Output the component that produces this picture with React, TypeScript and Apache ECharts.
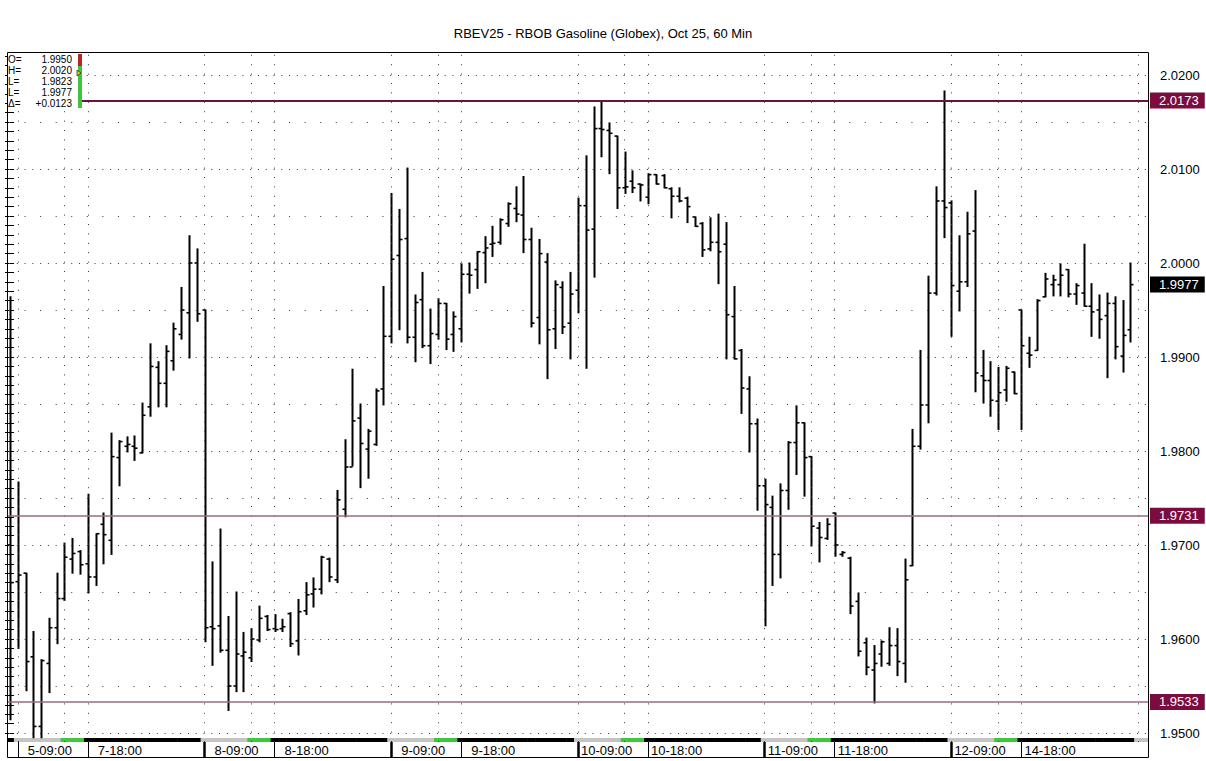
import React, { useEffect, useRef } from 'react';
import * as echarts from 'echarts';

const TITLE = 'RBEV25 - RBOB Gasoline (Globex), Oct 25, 60 Min';

// trading sessions (day of month, first hour, last hour) -> one bar per hour
const sessions = [
  { day: 5, from: 8, to: 17 },
  { day: 7, from: 18, to: 23 },
  { day: 8, from: 0, to: 23 },
  { day: 9, from: 0, to: 23 },
  { day: 10, from: 0, to: 23 },
  { day: 11, from: 0, to: 23 },
  { day: 12, from: 0, to: 17 },
  { day: 14, from: 18, to: 23 },
  { day: 15, from: 0, to: 10 },
];

const opens = [
  1.9700, 1.9661, 1.9670, 1.9581, 1.9507, 1.9574, 1.9612, 1.9643, 1.9685, 1.9693,
  1.9680, 1.9666, 1.9722, 1.9705, 1.9793, 1.9805, 1.9805, 1.9798, 1.9847, 1.9889,
  1.9872, 1.9896, 1.9924, 1.9947, 2.0000, 1.9950, 1.9613, 1.9614, 1.9588, 1.9550,
  1.9582, 1.9580, 1.9599, 1.9624, 1.9611, 1.9611, 1.9627, 1.9598, 1.9630, 1.9648,
  1.9653, 1.9685, 1.9663, 1.9738, 1.9783, 1.9835, 1.9802, 1.9807, 1.9866, 1.9922,
  2.0008, 2.0026, 1.9921, 1.9961, 1.9912, 1.9924, 1.9957, 1.9924, 1.9930, 1.9988,
  1.9993, 2.0011, 2.0020, 2.0022, 2.0042, 2.0058, 2.0051, 2.0025, 1.9942, 2.0001,
  1.9930, 1.9974, 1.9936, 1.9971, 2.0061, 2.0036, 2.0143, 2.0141, 2.0135, 2.0080,
  2.0087, 2.0084, 2.0070, 2.0094, 2.0093, 2.0079, 2.0071, 2.0069, 2.0049, 2.0042,
  2.0015, 2.0022, 2.0020, 1.9943, 1.9907, 1.9866, 1.9829, 1.9763, 1.9740, 1.9690,
  1.9758, 1.9809, 1.9830, 1.9794, 1.9718, 1.9707, 1.9734, 1.9690, 1.9686, 1.9640,
  1.9596, 1.9567, 1.9584, 1.9574, 1.9593, 1.9574, 1.9678, 1.9805, 1.9849, 1.9968,
  2.0066, 2.0064, 1.9970, 1.9980, 2.0034, 1.9880, 1.9875, 1.9853, 1.9865, 1.9884,
  1.9950, 1.9904, 1.9907, 1.9964, 1.9977, 1.9977, 1.9993, 1.9967, 1.9968, 1.9954,
  1.9950, 1.9944, 1.9957, 1.9901, 1.9929,
];
const highs = [
  1.9964, 1.9767, 1.9670, 1.9608, 1.9578, 1.9622, 1.9670, 1.9702, 1.9707, 1.9694,
  1.9754, 1.9712, 1.9734, 1.9819, 1.9811, 1.9815, 1.9816, 1.9851, 1.9914, 1.9895,
  1.9912, 1.9936, 1.9974, 2.0029, 2.0015, 1.9950, 1.9682, 1.9717, 1.9624, 1.9650,
  1.9607, 1.9611, 1.9635, 1.9625, 1.9626, 1.9621, 1.9628, 1.9642, 1.9660, 1.9665,
  1.9688, 1.9686, 1.9758, 1.9812, 1.9887, 1.9850, 1.9823, 1.9866, 1.9975, 2.0074,
  2.0057, 2.0101, 1.9966, 1.9990, 1.9951, 1.9962, 1.9957, 1.9948, 1.9999, 2.0000,
  2.0012, 2.0028, 2.0039, 2.0047, 2.0064, 2.0081, 2.0092, 2.0037, 2.0025, 2.0010,
  1.9981, 1.9980, 1.9990, 2.0069, 2.0114, 2.0166, 2.0172, 2.0149, 2.0135, 2.0118,
  2.0098, 2.0084, 2.0095, 2.0094, 2.0094, 2.0080, 2.0080, 2.0070, 2.0049, 2.0043,
  2.0048, 2.0052, 2.0043, 1.9975, 1.9908, 1.9879, 1.9834, 1.9770, 1.9752, 1.9765,
  1.9810, 1.9848, 1.9830, 1.9794, 1.9724, 1.9728, 1.9734, 1.9693, 1.9687, 1.9649,
  1.9601, 1.9593, 1.9598, 1.9612, 1.9611, 1.9685, 1.9823, 1.9907, 1.9986, 2.0081,
  2.0183, 2.0066, 2.0029, 2.0054, 2.0077, 1.9907, 1.9895, 1.9889, 1.9890, 1.9884,
  1.9950, 1.9921, 1.9961, 1.9989, 1.9987, 1.9999, 1.9993, 1.9978, 2.0020, 1.9978,
  1.9966, 1.9968, 1.9964, 1.9960, 2.0000,
];
const lows = [
  1.9514, 1.9590, 1.9545, 1.9495, 1.9495, 1.9543, 1.9595, 1.9641, 1.9670, 1.9669,
  1.9649, 1.9657, 1.9680, 1.9690, 1.9763, 1.9799, 1.9790, 1.9798, 1.9837, 1.9847,
  1.9847, 1.9886, 1.9919, 1.9899, 1.9938, 1.9597, 1.9572, 1.9586, 1.9524, 1.9544,
  1.9544, 1.9576, 1.9597, 1.9609, 1.9608, 1.9608, 1.9592, 1.9583, 1.9626, 1.9634,
  1.9648, 1.9661, 1.9660, 1.9730, 1.9784, 1.9761, 1.9771, 1.9806, 1.9849, 1.9915,
  1.9929, 1.9915, 1.9895, 1.9910, 1.9893, 1.9919, 1.9908, 1.9906, 1.9916, 1.9968,
  1.9973, 1.9979, 2.0007, 2.0020, 2.0039, 2.0044, 2.0011, 1.9932, 1.9914, 1.9877,
  1.9909, 1.9925, 1.9898, 1.9947, 1.9888, 1.9985, 2.0113, 2.0095, 2.0058, 2.0074,
  2.0075, 2.0066, 2.0063, 2.0084, 2.0080, 2.0048, 2.0065, 2.0043, 2.0039, 2.0007,
  2.0013, 1.9978, 1.9898, 1.9898, 1.9840, 1.9799, 1.9737, 1.9614, 1.9657, 1.9665,
  1.9738, 1.9775, 1.9752, 1.9699, 1.9682, 1.9706, 1.9688, 1.9688, 1.9627, 1.9582,
  1.9562, 1.9532, 1.9571, 1.9572, 1.9561, 1.9554, 1.9678, 1.9802, 1.9830, 1.9966,
  2.0027, 1.9922, 1.9949, 1.9975, 1.9863, 1.9851, 1.9837, 1.9823, 1.9853, 1.9861,
  1.9823, 1.9889, 1.9907, 1.9964, 1.9965, 1.9965, 1.9964, 1.9956, 1.9954, 1.9922,
  1.9920, 1.9878, 1.9898, 1.9884, 1.9916,
];
const closes = [
  1.9660, 1.9668, 1.9576, 1.9507, 1.9577, 1.9612, 1.9643, 1.9687, 1.9691, 1.9679,
  1.9666, 1.9712, 1.9711, 1.9794, 1.9810, 1.9807, 1.9803, 1.9838, 1.9890, 1.9872,
  1.9906, 1.9930, 1.9950, 2.0000, 1.9946, 1.9612, 1.9611, 1.9588, 1.9550, 1.9584,
  1.9586, 1.9600, 1.9622, 1.9610, 1.9610, 1.9613, 1.9595, 1.9629, 1.9647, 1.9653,
  1.9687, 1.9666, 1.9748, 1.9783, 1.9832, 1.9808, 1.9821, 1.9864, 1.9922, 2.0004,
  2.0025, 1.9921, 1.9958, 1.9912, 1.9925, 1.9957, 1.9919, 1.9943, 1.9988, 1.9987,
  2.0012, 2.0016, 2.0021, 2.0046, 2.0063, 2.0052, 2.0025, 1.9936, 2.0010, 1.9929,
  1.9977, 1.9932, 1.9967, 2.0061, 2.0035, 2.0143, 2.0142, 2.0138, 2.0080, 2.0081,
  2.0080, 2.0083, 2.0094, 2.0084, 2.0080, 2.0071, 2.0066, 2.0060, 2.0039, 2.0014,
  2.0022, 2.0012, 1.9945, 1.9898, 1.9867, 1.9829, 1.9763, 1.9743, 1.9690, 1.9758,
  1.9809, 1.9830, 1.9793, 1.9720, 1.9708, 1.9722, 1.9700, 1.9692, 1.9635, 1.9587,
  1.9570, 1.9574, 1.9597, 1.9593, 1.9576, 1.9663, 1.9805, 1.9849, 1.9968, 2.0066,
  2.0059, 1.9976, 1.9980, 2.0031, 1.9883, 1.9875, 1.9854, 1.9862, 1.9888, 1.9861,
  1.9912, 1.9902, 1.9960, 1.9983, 1.9982, 1.9987, 1.9967, 1.9976, 1.9954, 1.9948,
  1.9940, 1.9957, 1.9911, 1.9923, 1.9977,
];

const priceTicks = [1.95, 1.96, 1.97, 1.98, 1.99, 2.0, 2.01, 2.02];
const halfTicks = [1.955, 1.965, 1.975, 1.985, 1.995, 2.005, 2.015];
const levelLines = [2.0173, 1.9731, 1.9533];
const infoLabels = ['O=', 'H=', 'L=', 'L=', 'Δ='];
const infoValues = ['1.9950', '2.0020', '1.9823', '1.9977', '+0.0123'];

const FONT = "'Liberation Sans', Arial, Helvetica, sans-serif";

// layout (pixels)
const GRID_L = 7, GRID_R = 1148, GRID_T = 52, GRID_B = 742;
const BAR0_X = 10, PITCH = 7.78;
const PX_PER_UNIT = 9400, Y_REF_PX = 75, Y_REF_V = 2.02;

export default function App() {
  const ref = useRef<HTMLDivElement>(null);

  useEffect(() => {
    if (!ref.current) return;
    const chart = echarts.init(ref.current, null, { renderer: 'svg' });

    const slots: { day: number; hour: number }[] = [];
    sessions.forEach((s) => {
      for (let h = s.from; h <= s.to; h++) slots.push({ day: s.day, hour: h });
    });
    const nBars = closes.length;

    const xMin = (GRID_L - BAR0_X) / PITCH;
    const xMax = (GRID_R - BAR0_X) / PITCH;
    const yMax = Y_REF_V + (Y_REF_PX - GRID_T) / PX_PER_UNIT;
    const yMin = Y_REF_V - (GRID_B - Y_REF_PX) / PX_PER_UNIT;

    const labelIdx: number[] = [];
    const thinIdx: number[] = [];
    const thickIdx: number[] = [];
    const vertIdx: number[] = [];
    slots.forEach((s, i) => {
      if (s.hour === 9 || s.hour === 15 || s.hour === 18) vertIdx.push(i);
      if (i < nBars && (s.hour === 9 || s.hour === 18)) {
        labelIdx.push(i);
        if (s.hour === 9 && i > 1) thickIdx.push(i);
        else thinIdx.push(i);
      }
    });

    const minorTicks: number[] = [];
    for (let k = 1949; k <= 2022; k++) minorTicks.push(k / 1000);

    const ohlcData = closes.map((c, i) => [i, opens[i], highs[i], lows[i], c]);
    const stripData = slots.map((s, i) => [i, s.hour >= 9 && s.hour <= 14 ? 1 : s.hour >= 15 && s.hour <= 17 ? 2 : 0]);
    const stripColors = ['#000000', '#c4c4c4', '#3cc83c'];

    const dotColor = '#3a3a3a';
    const gridMarks = [
      ...priceTicks.map((v) => ({ yAxis: v, lineStyle: { type: [1, 6.78], dashOffset: -2.5, color: dotColor, width: 1 } })),
      ...halfTicks.map((v) => ({ yAxis: v, lineStyle: { type: [1, 14.56], dashOffset: -2.5, color: dotColor, width: 1 } })),
      ...vertIdx.map((i) => ({ xAxis: i, lineStyle: { type: [1, 8.4], color: dotColor, width: 1 } })),
    ];

    const tag = (bg: string) => ({
      show: true,
      position: 'end',
      distance: 2,
      backgroundColor: bg,
      color: '#ffffff',
      padding: [2, 6, 1, 9],
      fontSize: 13,
      fontFamily: FONT,
      formatter: (p: any) => Number(p.value).toFixed(4),
    });

    const priceMarks = [
      { yAxis: levelLines[0], lineStyle: { color: '#6a1240', width: 2, type: 'solid' }, label: tag('#7a0c3e') },
      { yAxis: levelLines[1], lineStyle: { color: '#9a6a86', width: 1.5, type: 'solid' }, label: tag('#7a0c3e') },
      { yAxis: levelLines[2], lineStyle: { color: '#9a6a86', width: 1.5, type: 'solid' }, label: tag('#7a0c3e') },
      { yAxis: closes[nBars - 1], lineStyle: { color: 'rgba(0,0,0,0)', width: 1, type: 'solid' }, label: tag('#000000') },
    ];

    const labelText = (v: number) => {
      const s = slots[Math.round(v)];
      if (!s) return '';
      const t = `${s.day}-${String(s.hour).padStart(2, '0')}:00`;
      return s.day < 10 ? `{p|${t}}` : `{q|${t}}`;
    };

    const option: any = {
      animation: false,
      backgroundColor: '#ffffff',
      title: {
        text: TITLE,
        left: 'center',
        top: 22,
        textStyle: { fontSize: 13, fontWeight: 'normal', color: '#000', fontFamily: FONT },
      },
      grid: { left: GRID_L, top: GRID_T, width: GRID_R - GRID_L, height: GRID_B - GRID_T, containLabel: false },
      xAxis: [
        {
          type: 'value',
          min: xMin,
          max: xMax,
          position: 'bottom',
          axisLine: { show: false },
          splitLine: { show: false },
          axisTick: { show: true, customValues: thinIdx, length: 15, lineStyle: { color: '#000', width: 1 } },
          axisLabel: {
            show: true,
            customValues: labelIdx,
            formatter: labelText,
            align: 'left',
            margin: 2,
            rich: {
              p: { padding: [0, 0, 0, 10], fontSize: 13, fontFamily: FONT, color: '#000' },
              q: { padding: [0, 0, 0, 3], fontSize: 13, fontFamily: FONT, color: '#000' },
            },
          },
        },
        {
          type: 'value',
          min: xMin,
          max: xMax,
          position: 'bottom',
          axisLine: { show: false },
          splitLine: { show: false },
          axisLabel: { show: false },
          axisTick: { show: true, customValues: thickIdx, length: 15, lineStyle: { color: '#000', width: 2.5 } },
        },
      ],
      yAxis: [
        {
          type: 'value',
          position: 'right',
          min: yMin,
          max: yMax,
          axisLine: { show: false },
          splitLine: { show: false },
          axisTick: { show: true, inside: true, length: 5, customValues: minorTicks, lineStyle: { color: '#000', width: 1 } },
          axisLabel: {
            show: true,
            customValues: priceTicks,
            formatter: (v: number) => v.toFixed(4),
            margin: 12,
            fontSize: 13,
            fontFamily: FONT,
            color: '#000',
          },
        },
        {
          type: 'value',
          position: 'left',
          min: yMin,
          max: yMax,
          axisLine: { show: false },
          splitLine: { show: false },
          axisLabel: { show: false },
          axisTick: { show: true, inside: true, length: 4, customValues: minorTicks, lineStyle: { color: '#000', width: 1 } },
        },
      ],
      series: [
        {
          type: 'line',
          name: 'grid',
          data: [],
          z: 1,
          silent: true,
          markLine: { silent: true, precision: 4, symbol: ['none', 'none'], label: { show: false }, data: gridMarks },
        },
        {
          type: 'custom',
          name: 'sessions',
          z: 2,
          silent: true,
          data: stripData,
          encode: { x: 0 },
          clip: true,
          renderItem: (params: any, api: any) => {
            const i = api.value(0);
            const cls = api.value(1);
            const p = api.coord([i, yMin]);
            const w = api.size([1, 0])[0];
            return {
              type: 'rect',
              shape: { x: p[0] - w / 2, y: p[1] - 4, width: w + 0.5, height: 4 },
              style: { fill: stripColors[cls] },
            };
          },
        },
        {
          type: 'line',
          name: 'levels',
          data: [],
          z: 2,
          silent: true,
          markLine: { silent: true, precision: 4, symbol: ['none', 'none'], data: priceMarks },
        },
        {
          type: 'custom',
          name: 'RBEV25',
          z: 3,
          data: ohlcData,
          encode: { x: 0, y: [1, 2, 3, 4] },
          clip: true,
          renderItem: (params: any, api: any) => {
            const i = api.value(0);
            const pO = api.coord([i, api.value(1)]);
            const pH = api.coord([i, api.value(2)]);
            const pL = api.coord([i, api.value(3)]);
            const pC = api.coord([i, api.value(4)]);
            const x = Math.round(pH[0]) + 0.5;
            const st = { stroke: '#000', lineWidth: 2 };
            return {
              type: 'group',
              children: [
                { type: 'line', shape: { x1: x, y1: pH[1] - 0.5, x2: x, y2: pL[1] + 0.5 }, style: st },
                { type: 'line', shape: { x1: x - 3, y1: pO[1], x2: x, y2: pO[1] }, style: { stroke: '#000', lineWidth: 1.6 } },
                { type: 'line', shape: { x1: x, y1: pC[1], x2: x + 3, y2: pC[1] }, style: { stroke: '#000', lineWidth: 1.6 } },
              ],
            };
          },
        },
      ],
      graphic: [
        {
          type: 'rect',
          z: 100,
          silent: true,
          shape: { x: GRID_L + 0.5, y: GRID_T + 0.5, width: GRID_R - GRID_L, height: 757 - GRID_T },
          style: { fill: 'none', stroke: '#000', lineWidth: 1 },
        },
        {
          type: 'rect',
          z: 100,
          silent: true,
          shape: { x: GRID_L + 1, y: GRID_T + 1, width: 70, height: 56 },
          style: { fill: '#ffffff' },
        },
        ...infoLabels.map((t, k) => ({
          type: 'text',
          z: 101,
          silent: true,
          x: 8,
          y: 59 + k * 11,
          style: { text: t, fill: '#000', font: `10px ${FONT}`, verticalAlign: 'middle', align: 'left' },
        })),
        ...infoValues.map((t, k) => ({
          type: 'text',
          z: 101,
          silent: true,
          x: 72,
          y: 59 + k * 11,
          style: { text: t, fill: '#000', font: `10px ${FONT}`, verticalAlign: 'middle', align: 'right' },
        })),
        { type: 'rect', z: 101, silent: true, shape: { x: 78, y: 54, width: 4, height: 12 }, style: { fill: '#b8261f' } },
        { type: 'rect', z: 101, silent: true, shape: { x: 78, y: 66, width: 4, height: 42 }, style: { fill: '#3ec43e' } },
        {
          type: 'polygon',
          z: 102,
          silent: true,
          shape: { points: [[77, 70], [81, 73], [77, 76]] },
          style: { fill: '#e8d800', stroke: '#000', lineWidth: 0.6 },
        },
      ],
    };

    chart.setOption(option);
    return () => chart.dispose();
  }, []);

  return <div ref={ref} style={{ position: 'absolute', left: 0, top: 0, width: 1206, height: 761 }} />;
}
